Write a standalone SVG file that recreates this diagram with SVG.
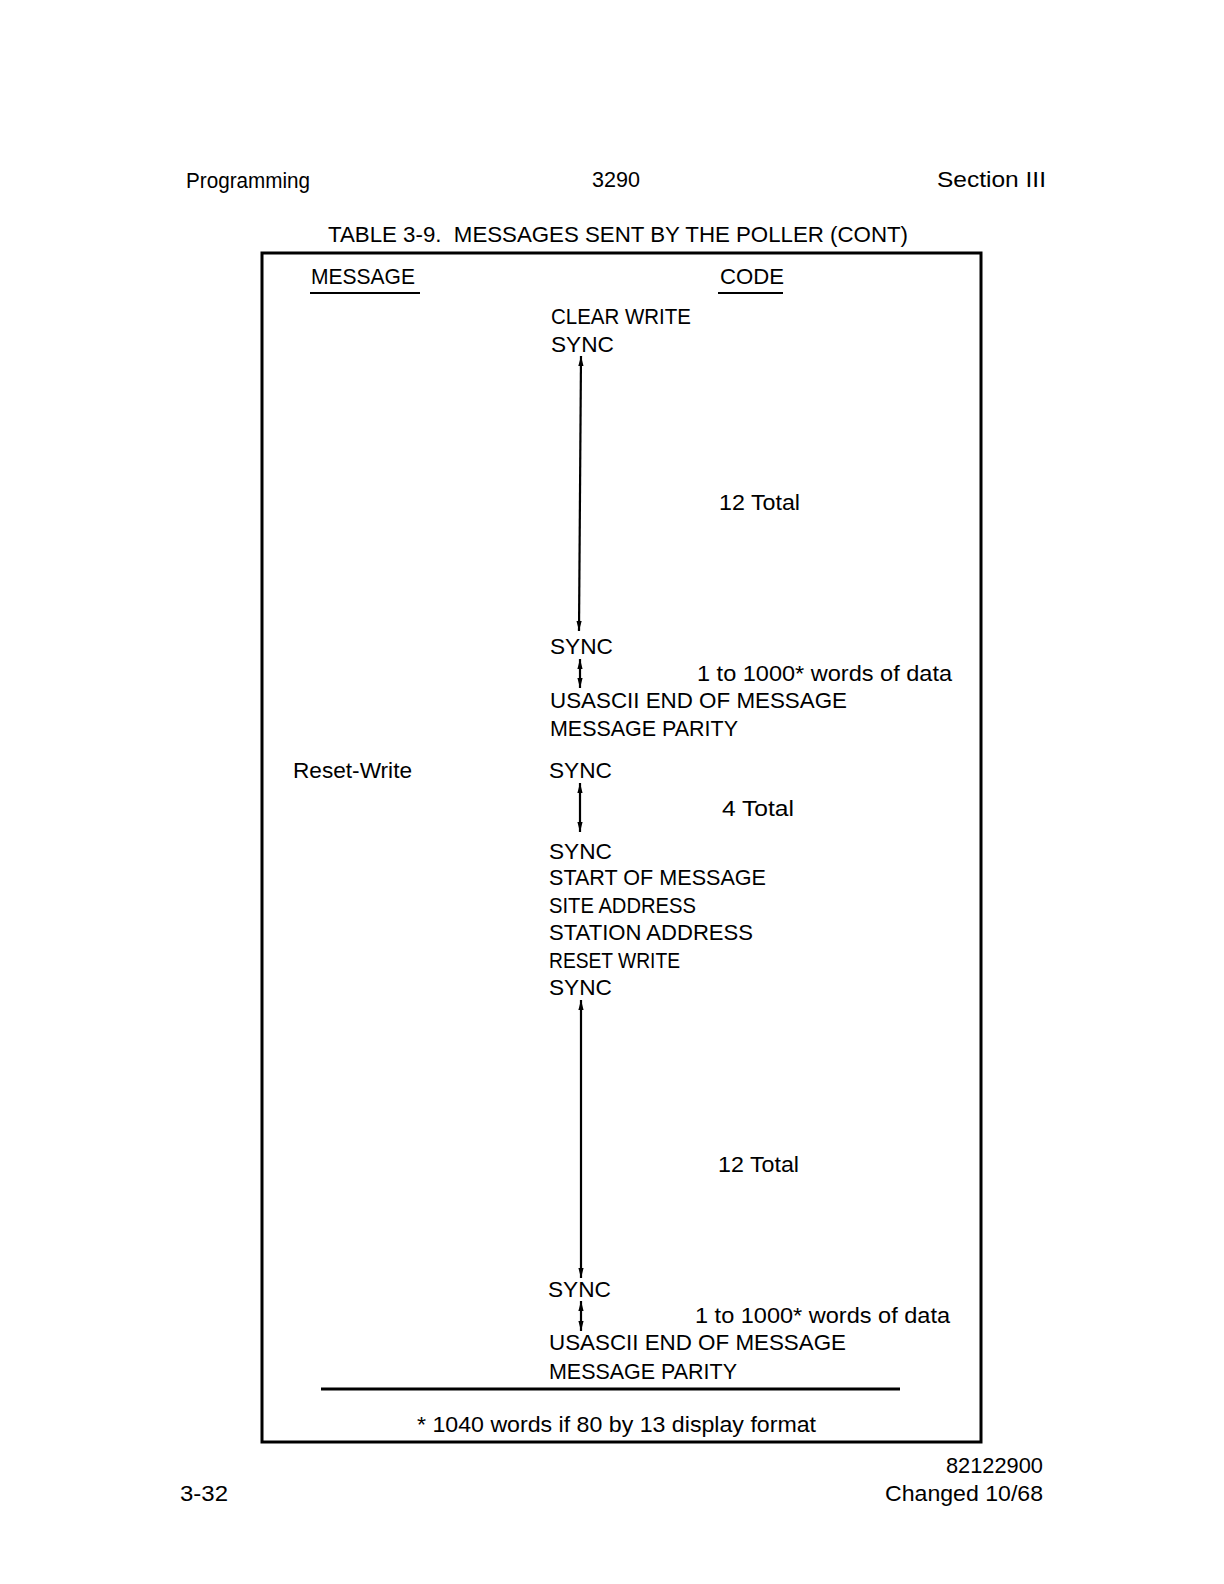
<svg xmlns="http://www.w3.org/2000/svg" width="1224" height="1584" viewBox="0 0 1224 1584">
<defs>
<style>
text{font-family:"Liberation Sans",Arial,sans-serif;font-size:22px;fill:#000;}
.ln{stroke:#000;stroke-width:2.2;fill:none;}
.rule{stroke:#000;stroke-width:3;fill:none;}
.box{stroke:#000;stroke-width:3;fill:none;}
.ul{stroke:#000;stroke-width:2;}
</style>
<marker id="ah" viewBox="0 0 10 6" markerUnits="userSpaceOnUse" markerWidth="10" markerHeight="6" refX="10" refY="3" orient="auto-start-reverse">
<path d="M0,0.4 L10,3 L0,5.6 z" fill="#000"/>
</marker>
</defs>
<rect width="1224" height="1584" fill="#fff"/>
<g id="page-header">
<text x="186" y="188" textLength="124" lengthAdjust="spacingAndGlyphs">Programming</text>
<text x="592" y="187" textLength="48" lengthAdjust="spacingAndGlyphs">3290</text>
<text x="937" y="187" textLength="109" lengthAdjust="spacingAndGlyphs">Section III</text>
<text x="328" y="242" textLength="580" lengthAdjust="spacingAndGlyphs">TABLE 3-9.&#160; MESSAGES SENT BY THE POLLER (CONT)</text>
</g>
<g id="table-frame">
<rect class="box" x="262" y="253" width="719" height="1189"/>
<text x="311" y="284" textLength="104" lengthAdjust="spacingAndGlyphs">MESSAGE</text>
<line class="ul" x1="310" y1="293" x2="420" y2="293"/>
<text x="720" y="284" textLength="64" lengthAdjust="spacingAndGlyphs">CODE</text>
<line class="ul" x1="718" y1="293" x2="783" y2="293"/>
<line class="rule" x1="321" y1="1389" x2="900" y2="1389"/>
<text x="417" y="1432" textLength="399" lengthAdjust="spacingAndGlyphs">* 1040 words if 80 by 13 display format</text>
</g>
<g id="clear-write-code">
<text x="551" y="324" textLength="140" lengthAdjust="spacingAndGlyphs">CLEAR WRITE</text>
<text x="551" y="352" textLength="63" lengthAdjust="spacingAndGlyphs">SYNC</text>
<text x="719" y="510" textLength="81" lengthAdjust="spacingAndGlyphs">12 Total</text>
<text x="550" y="654" textLength="63" lengthAdjust="spacingAndGlyphs">SYNC</text>
<text x="697" y="681" textLength="255" lengthAdjust="spacingAndGlyphs">1 to 1000* words of data</text>
<text x="550" y="708" textLength="297" lengthAdjust="spacingAndGlyphs">USASCII END OF MESSAGE</text>
<text x="550" y="736" textLength="188" lengthAdjust="spacingAndGlyphs">MESSAGE PARITY</text>
</g>
<g id="reset-write">
<text x="293" y="778" textLength="119" lengthAdjust="spacingAndGlyphs">Reset-Write</text>
<text x="549" y="778" textLength="63" lengthAdjust="spacingAndGlyphs">SYNC</text>
<text x="722" y="816" textLength="72" lengthAdjust="spacingAndGlyphs">4 Total</text>
<text x="549" y="859" textLength="63" lengthAdjust="spacingAndGlyphs">SYNC</text>
<text x="549" y="885" textLength="217" lengthAdjust="spacingAndGlyphs">START OF MESSAGE</text>
<text x="549" y="913" textLength="147" lengthAdjust="spacingAndGlyphs">SITE ADDRESS</text>
<text x="549" y="940" textLength="204" lengthAdjust="spacingAndGlyphs">STATION ADDRESS</text>
<text x="549" y="968" textLength="131" lengthAdjust="spacingAndGlyphs">RESET WRITE</text>
<text x="549" y="995" textLength="63" lengthAdjust="spacingAndGlyphs">SYNC</text>
<text x="718" y="1172" textLength="81" lengthAdjust="spacingAndGlyphs">12 Total</text>
<text x="548" y="1297" textLength="63" lengthAdjust="spacingAndGlyphs">SYNC</text>
<text x="695" y="1323" textLength="255" lengthAdjust="spacingAndGlyphs">1 to 1000* words of data</text>
<text x="549" y="1350" textLength="297" lengthAdjust="spacingAndGlyphs">USASCII END OF MESSAGE</text>
<text x="549" y="1379" textLength="188" lengthAdjust="spacingAndGlyphs">MESSAGE PARITY</text>
</g>
<g id="connectors">
<line class="ln" x1="581" y1="356" x2="579" y2="631" marker-start="url(#ah)" marker-end="url(#ah)"/>
<line class="ln" x1="580" y1="659" x2="580" y2="688" marker-start="url(#ah)" marker-end="url(#ah)"/>
<line class="ln" x1="580" y1="783" x2="580" y2="832" marker-start="url(#ah)" marker-end="url(#ah)"/>
<line class="ln" x1="581" y1="1000" x2="581" y2="1278" marker-start="url(#ah)" marker-end="url(#ah)"/>
<line class="ln" x1="581" y1="1301" x2="581" y2="1331" marker-start="url(#ah)" marker-end="url(#ah)"/>
</g>
<g id="page-footer">
<text x="1043" y="1473" text-anchor="end" textLength="97" lengthAdjust="spacingAndGlyphs">82122900</text>
<text x="180" y="1501" textLength="48" lengthAdjust="spacingAndGlyphs">3-32</text>
<text x="1043" y="1501" text-anchor="end" textLength="158" lengthAdjust="spacingAndGlyphs">Changed 10/68</text>
</g>
</svg>
